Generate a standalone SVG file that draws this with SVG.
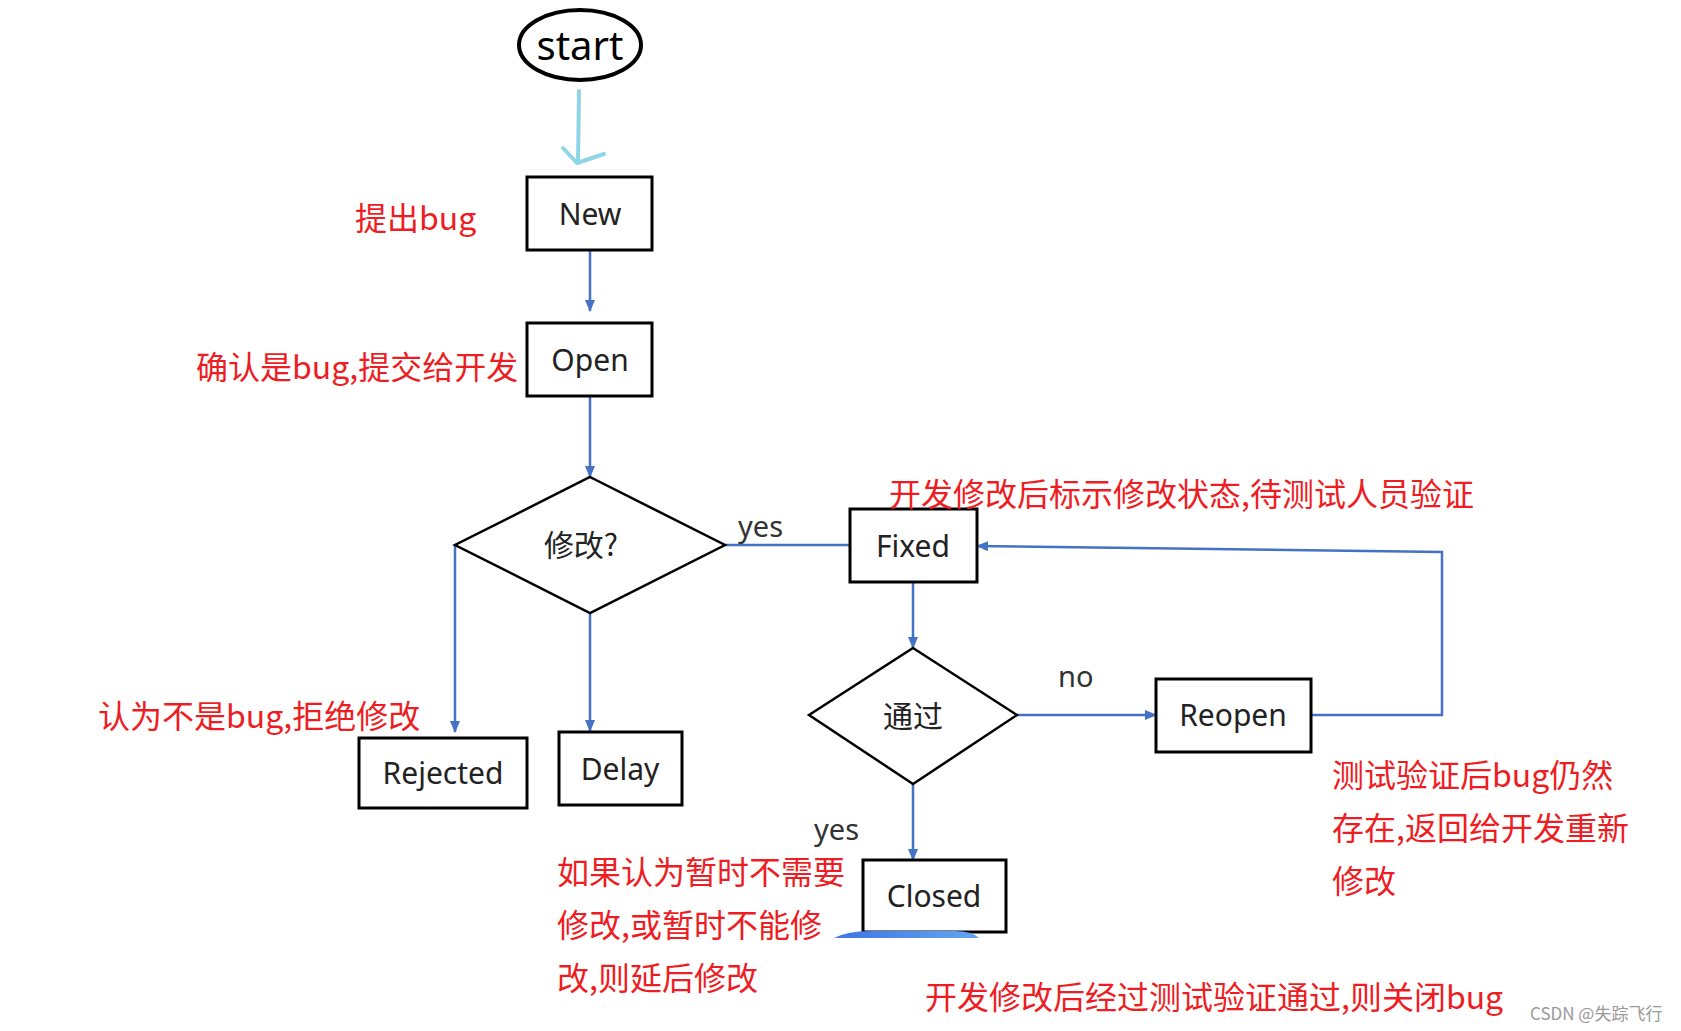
<svg xmlns="http://www.w3.org/2000/svg" width="1681" height="1031" viewBox="0 0 1681 1031">
<style>
.box{fill:#fff;stroke:#000;stroke-width:3}
.dia{fill:#fff;stroke:#000;stroke-width:2.5}
.lbl{font-family:"Noto Sans","Noto Sans CJK SC",sans-serif;font-size:30px;fill:#222;text-anchor:middle;dominant-baseline:central}
.cn{font-family:"Noto Sans CJK SC","Noto Sans",sans-serif;font-size:30px;fill:#222;text-anchor:middle;dominant-baseline:central}
.note{font-family:"Noto Sans CJK SC","Noto Sans",sans-serif;font-size:32px;fill:#ee1d23;dominant-baseline:central}
.yn{font-family:"Noto Sans",sans-serif;font-size:29px;fill:#333;dominant-baseline:central}
.conn{fill:none;stroke:#4472c4;stroke-width:2.5}
</style>
<defs>
<marker id="ah" markerUnits="userSpaceOnUse" markerWidth="12" markerHeight="10" refX="11" refY="5" orient="auto">
<path d="M0,0 L12,5 L0,10 z" fill="#4472c4"/>
</marker>
<linearGradient id="smudge" x1="0" y1="0" x2="1" y2="0">
<stop offset="0" stop-color="#3f74e6"/>
<stop offset="1" stop-color="#63a6f2"/>
</linearGradient>
</defs>
<rect width="1681" height="1031" fill="#fff"/>

<g id="connectors">
<path d="M579,91 L578,163" fill="none" stroke="#8fd5e8" stroke-width="4" stroke-linecap="round"/>
<path d="M563,148 L577,163 L604,154" fill="none" stroke="#8fd5e8" stroke-width="4" stroke-linecap="round" stroke-linejoin="round"/>
<path class="conn" d="M590,250 L590,311" marker-end="url(#ah)"/>
<path class="conn" d="M590,396 L590,477" marker-end="url(#ah)"/>
<path class="conn" d="M455,545 L455,732" marker-end="url(#ah)"/>
<path class="conn" d="M590,613 L590,731" marker-end="url(#ah)"/>
<path class="conn" d="M725,545 L850,545"/>
<path class="conn" d="M913,582 L913,648" marker-end="url(#ah)"/>
<path class="conn" d="M1017,715 L1156,715" marker-end="url(#ah)"/>
<path class="conn" d="M1311,715 L1442,715 L1442,552 L977,546" marker-end="url(#ah)"/>
<path class="conn" d="M913,784 L913,860" marker-end="url(#ah)"/>
<text class="yn" x="738" y="525">yes</text>
<text class="yn" x="1058" y="675">no</text>
<text class="yn" x="814" y="828">yes</text>
</g>

<g id="start">
<ellipse cx="580" cy="45" rx="61" ry="35" fill="#fff" stroke="#000" stroke-width="4"/>
<text x="580" y="44" font-family="Noto Sans,sans-serif" font-size="40" fill="#000" text-anchor="middle" dominant-baseline="central">start</text>
</g>

<g id="new">
<rect class="box" x="527" y="177" width="125" height="73"/>
<text class="lbl" x="590" y="213">New</text>
</g>

<g id="open">
<rect class="box" x="527" y="323" width="125" height="73"/>
<text class="lbl" x="590" y="359">Open</text>
</g>

<g id="decide-fix">
<polygon class="dia" points="590,477 725,545 590,613 455,545"/>
<text class="cn" x="581" y="543">修改?</text>
</g>

<g id="fixed">
<rect class="box" x="850" y="509" width="127" height="73"/>
<text class="lbl" x="913" y="545">Fixed</text>
</g>

<g id="decide-pass">
<polygon class="dia" points="913,648 1017,715 913,784 809,715"/>
<text class="cn" x="913" y="714">通过</text>
</g>

<g id="reopen">
<rect class="box" x="1156" y="679" width="155" height="73"/>
<text class="lbl" x="1233" y="714">Reopen</text>
</g>

<g id="rejected">
<rect class="box" x="359" y="738" width="168" height="70"/>
<text class="lbl" x="443" y="772">Rejected</text>
</g>

<g id="delay">
<rect class="box" x="559" y="732" width="123" height="73"/>
<text class="lbl" x="620" y="768">Delay</text>
</g>

<g id="closed">
<rect class="box" x="863" y="860" width="143" height="72"/>
<text class="lbl" x="934" y="895">Closed</text>
</g>

<path d="M834,938 Q848,931 870,931 L955,931 Q972,931 979,938 Z" fill="url(#smudge)"/>

<g id="notes">
<text class="note" x="355" y="216">提出bug</text>
<text class="note" x="196" y="365">确认是bug,提交给开发</text>
<text class="note" x="889" y="492">开发修改后标示修改状态,待测试人员验证</text>
<text class="note" x="98" y="714">认为不是bug,拒绝修改</text>
<text class="note" x="1332" y="773">测试验证后bug仍然</text>
<text class="note" x="1332" y="826">存在,返回给开发重新</text>
<text class="note" x="1332" y="879">修改</text>
<text class="note" x="557" y="870">如果认为暂时不需要</text>
<text class="note" x="557" y="923">修改,或暂时不能修</text>
<text class="note" x="557" y="976">改,则延后修改</text>
<text class="note" x="925" y="995">开发修改后经过测试验证通过,则关闭bug</text>
</g>
<text x="1530" y="1012" font-family="Noto Sans CJK SC,Noto Sans,sans-serif" font-size="17" fill="#999" dominant-baseline="central">CSDN @失踪飞行</text>
</svg>
